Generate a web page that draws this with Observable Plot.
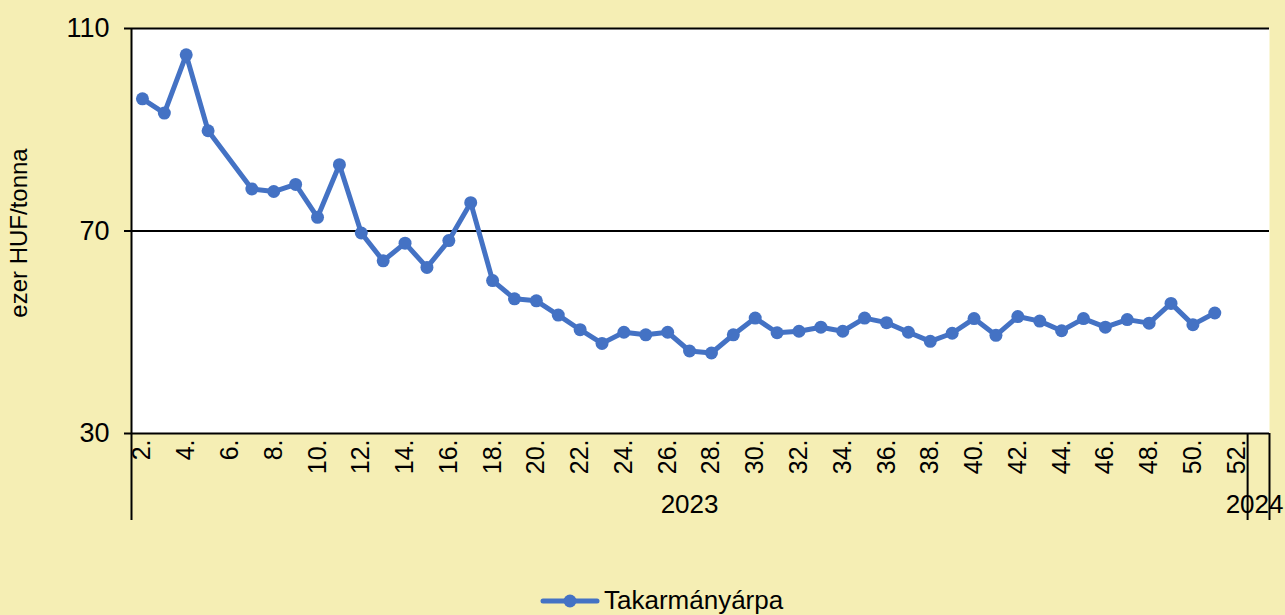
<!DOCTYPE html>
<html><head><meta charset="utf-8">
<script src="https://cdn.jsdelivr.net/npm/d3@7"></script>
<script src="https://cdn.jsdelivr.net/npm/@observablehq/plot@0.6"></script>
<style>
html,body{margin:0;padding:0;background:#f5eeb4;}
#wrap{width:1285px;height:615px;overflow:hidden;font-family:"Liberation Sans",Arial,sans-serif;}
#legend{height:35px;display:flex;align-items:center;padding-left:541px;padding-top:6px;box-sizing:border-box;}
#legend span{font-size:26px;color:#000;margin-left:5px;}
</style></head><body><div id="wrap"><div id="chart"></div><div id="legend"></div></div>
<script>
// Week numbers (2023) that have a price; week 6 has no observation
const weeks = [2,3,4,5,7,8,9,10,11,12,13,14,15,16,17,18,19,20,21,22,23,24,25,26,27,28,29,30,31,32,33,34,35,36,37,38,39,40,41,42,43,44,45,46,47,48,49,50,51];
// Feed barley price, thousand HUF / tonne
const prices = [96.1,93.3,104.8,89.8,78.3,77.8,79.2,72.7,83.1,69.6,64.1,67.6,62.8,68.1,75.6,60.2,56.6,56.2,53.4,50.5,47.8,50.0,49.5,50.0,46.3,45.9,49.5,52.8,49.9,50.2,51.0,50.2,52.8,51.9,50.0,48.2,49.8,52.7,49.4,53.1,52.2,50.3,52.7,51.0,52.5,51.8,55.7,51.5,53.8];
// Tick labels on the week axis
const xTicks = [2,4,6,8,10,12,14,16,18,20,22,24,26,28,30,32,34,36,38,40,42,44,46,48,50,52];
const yTicks = [30,70,110];
// Year groups: first and last week slot of each year on the category axis (2024 week 1 = slot 53)
const years = ["2023","2024"];
const yearStart = [2,53];
const yearEnd = [52,53];
const seriesName = "Takarmányárpa";
const yTitle = "ezer HUF/tonna";
const color = "#4472C4";

const data = weeks.map((w,i)=>({week:w, price:prices[i]}));
const yearData = years.map((y,i)=>({year:y, mid:(yearStart[i]+yearEnd[i])/2, shift: i === years.length-1 ? -4 : 0}));
const bounds = [yearStart[0]-0.5, ...yearEnd.map(e=>e+0.5)];

const chart = Plot.plot({
  width:1285, height:580,
  marginLeft:131, marginRight:16, marginTop:28, marginBottom:147,
  style:{background:"transparent", fontFamily:"'Liberation Sans', Arial, sans-serif", color:"#000", overflow:"visible"},
  x:{type:"linear", domain:[1.5,53.5], axis:null},
  y:{domain:[30,110], axis:null},
  marks:[
    Plot.frame({fill:"white", stroke:null}),
    Plot.ruleY([30,70,110],{stroke:"#000", strokeWidth:2}),
    Plot.axisY({ticks:yTicks, tickSize:7, tickPadding:15, strokeWidth:2, fontSize:27, label:null, tickFormat:d=>String(d)}),
    Plot.ruleX([bounds[0]],{stroke:"#000", strokeWidth:2, insetBottom:-87}),
    Plot.ruleX(bounds.slice(1),{y1:30, y2:30, stroke:"#000", strokeWidth:2, insetBottom:-87}),
    Plot.axisX({ticks:xTicks, tickSize:0, tickPadding:6, tickRotate:-90, fontSize:25, label:null, tickFormat:d=>d+"."}),
    Plot.text(yearData.slice(0,1),{x:"mid", y:()=>30, text:"year", dy:71, fontSize:26, fill:"#000"}),
    Plot.text(yearData.slice(1),{x:"mid", y:()=>30, text:"year", dy:71, dx:-4, fontSize:26, fill:"#000"}),
    Plot.text([yTitle],{frameAnchor:"left", textAnchor:"middle", dx:-112, dy:2, rotate:-90, fontSize:24, fill:"#000"}),
    Plot.line(data,{x:"week", y:"price", stroke:color, strokeWidth:5, strokeLinejoin:"round"}),
    Plot.dot(data,{x:"week", y:"price", r:6.5, fill:color, stroke:null})
  ]
});
document.getElementById("chart").appendChild(chart);

const lg = document.getElementById("legend");
lg.innerHTML = `<svg width="58" height="20" style="overflow:visible"><line x1="2" x2="56" y1="10" y2="10" stroke="${color}" stroke-width="5" stroke-linecap="round"/><circle cx="29" cy="10" r="6.5" fill="${color}"/></svg><span></span>`;
lg.querySelector("span").textContent = seriesName;
</script></body></html>
